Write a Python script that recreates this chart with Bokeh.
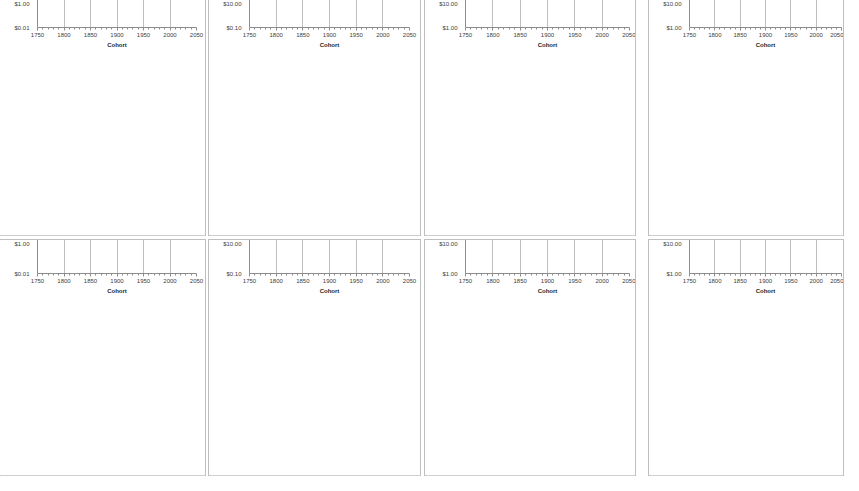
from bokeh.plotting import figure
from bokeh.layouts import row, column, Spacer
from bokeh.models import Range1d, FixedTicker, NumeralTickFormatter, Legend, LegendItem, Title
from bokeh.embed import file_html
from bokeh.resources import INLINE

# ---------------- data ----------------
COH_YEARS = [1820, 1830, 1840, 1850, 1860, 1870, 1880, 1890, 1900, 1910, 1920,
             1930, 1940, 1950, 1960, 1975, 2000, 2025, 2050]
PER_YEARS = [1820, 1825, 1830, 1835, 1840, 1845, 1850, 1860, 1870, 1875, 1880,
             1890, 1900, 1910, 1915, 1920, 1925, 1930, 1940, 1947, 1950, 1960,
             1970, 1980, 1990, 2000, 2025, 2050]
X_TICKS = [1750, 1800, 1850, 1900, 1950, 2000, 2050]

TITLE_LINE1 = [
    "Actual and estimated SPDA rates for females",
    "Actual and estimated SPDA rates for females",
    "Actual and estimated SPDA rates for males",
    "Actual and estimated SPDA rates for males",
    "Actual and estimated SPDA rates for males",
    "Actual and estimated SPDA rates for males",
    "Actual and estimated SPDA rates for males",
    "Actual and estimated SPDA rates for males",
]
TITLE_LINE2 = ["in France at birth", "in France at 20 years", "in France at 40 years",
               "in France at 60 years", "in France at birth", "in France at 20 years",
               "in France at 40 years", "in France at 60 years"]
Y_RANGES = [(0.01, 1.0), (0.1, 10.0), (1.0, 10.0), (1.0, 10.0),
            (0.01, 1.0), (0.1, 10.0), (1.0, 10.0), (1.0, 10.0)]
SEX_LABELS = ["Female", "Female", "Female", "Male", "Male", "Male", "Male", "Male"]

# panel 1: females at birth
act1_x = [1820, 1825, 1830, 1835, 1840, 1845, 1850, 1855, 1860, 1865, 1870, 1875,
          1880, 1885, 1890, 1895, 1900, 1905, 1910, 1915]
act1_y = [0.178, 0.185, 0.192, 0.197, 0.205, 0.215, 0.228, 0.236, 0.25, 0.26, 0.275,
          0.29, 0.315, 0.34, 0.37, 0.40, 0.44, 0.47, 0.50, 0.49]
coh1_y = [0.176, 0.184, 0.195, 0.219, 0.24, 0.266, 0.304, 0.362, 0.421, 0.502, 0.564,
          0.61, 0.645, 0.68, 0.71, 0.75, 0.79, 0.815, 0.83]
per1_y = [0.144, 0.128, 0.124, 0.135, 0.175, 0.186, 0.187, 0.183, 0.19, 0.18, 0.197,
          0.213, 0.233, 0.252, 0.265, 0.275, 0.28, 0.31, 0.355, 0.365, 0.38, 0.5,
          0.57, 0.62, 0.66, 0.70, 0.76, 0.81]

# panel 2: females at 20 years
act2_x = [1820, 1825, 1830, 1835, 1840, 1845, 1850, 1855, 1860, 1865, 1870, 1875, 1880]
act2_y = [0.78, 0.79, 0.81, 0.83, 0.86, 0.87, 0.90, 0.93, 0.96, 1.0, 1.04, 1.07, 1.10]
coh2_y = [0.774, 0.80, 0.84, 0.88, 0.94, 1.01, 1.09, 1.22, 1.37, 1.53, 1.66, 1.77,
          1.86, 1.93, 1.99, 2.07, 2.16, 2.22, 2.26]
per2_y = [0.66, 0.65, 0.67, 0.68, 0.71, 0.72, 0.72, 0.74, 0.72, 0.73, 0.79, 0.83,
          0.86, 0.90, 0.91, 0.93, 0.92, 0.98, 1.08, 1.10, 1.20, 1.44, 1.58, 1.70,
          1.79, 1.86, 1.98, 2.07]

# panel 3: "males" at 40 years (female series)
act3_x = [1820, 1825, 1830, 1835, 1840, 1845, 1850, 1855, 1860, 1865, 1870, 1875,
          1880, 1885, 1890, 1895, 1900]
act3_y = [2.5, 2.47, 2.6, 2.62, 2.68, 2.72, 2.8, 2.86, 2.9, 2.98, 3.05, 3.15, 3.3,
          3.5, 3.7, 3.9, 4.1]
coh3_y = [2.49, 2.55, 2.62, 2.72, 2.83, 2.97, 3.25, 3.63, 4.05, 4.42, 4.77, 5.02,
          5.25, 5.44, 5.58, 5.76, 5.94, 6.06, 6.15]
per3_y = [2.15, 2.2, 2.23, 2.22, 2.25, 2.35, 2.38, 2.35, 2.42, 2.36, 2.49, 2.57,
          2.63, 2.69, 2.72, 2.78, 2.85, 2.97, 3.18, 3.22, 3.35, 3.82, 4.17, 4.42,
          4.62, 4.83, 5.27, 5.56]

# panel 4: males at 60 years (red)
act4_x = [1820, 1825, 1830, 1832, 1835, 1840, 1845, 1848, 1850, 1855, 1860, 1865,
          1870, 1873, 1875, 1880, 1885, 1890, 1895, 1900, 1905, 1910]
act4_y = [2.25, 2.22, 2.26, 2.32, 2.3, 2.25, 2.2, 2.17, 2.26, 2.3, 2.31, 2.33, 2.3,
          2.26, 2.35, 2.5, 2.62, 2.76, 2.88, 3.0, 3.15, 3.29]
coh4_y = [2.2, 2.23, 2.28, 2.31, 2.35, 2.38, 2.52, 2.75, 3.04, 3.35, 3.63, 3.9, 4.14,
          4.36, 4.53, 4.77, 5.11, 5.38, 5.59]
per4_y = [2.16, 2.18, 2.22, 2.24, 2.27, 2.33, 2.3, 2.33, 2.38, 2.35, 2.55, 2.66,
          2.69, 2.72, 2.76, 2.82, 2.88, 2.97, 3.15, 3.2, 3.35, 3.79, 4.1, 4.35,
          4.62, 4.89, 5.27, 5.51]

# panel 5: males at birth
act5_x = [1820, 1825, 1830, 1835, 1840, 1845, 1850, 1855, 1860, 1865, 1870, 1875,
          1880, 1885, 1890, 1895, 1898, 1900, 1905, 1910, 1915]
act5_y = [0.157, 0.153, 0.162, 0.166, 0.17, 0.165, 0.168, 0.172, 0.18, 0.175, 0.178,
          0.185, 0.176, 0.178, 0.166, 0.165, 0.22, 0.24, 0.268, 0.295, 0.31]
coh5_y = [0.152, 0.158, 0.162, 0.166, 0.172, 0.177, 0.185, 0.20, 0.235, 0.292, 0.348,
          0.39, 0.446, 0.487, 0.52, 0.58, 0.644, 0.67, 0.703]
per5_y = [0.114, 0.096, 0.093, 0.10, 0.13, 0.155, 0.162, 0.17, 0.177, 0.16, 0.185,
          0.20, 0.202, 0.207, 0.20, 0.155, 0.185, 0.241, 0.268, 0.26, 0.287, 0.368,
          0.42, 0.446, 0.487, 0.546, 0.63, 0.71]

# panel 6: males at 20 years
act6_x = act5_x
act6_y = [0.70, 0.69, 0.70, 0.71, 0.70, 0.71, 0.70, 0.71, 0.735, 0.72, 0.735, 0.74,
          0.72, 0.72, 0.65, 0.64, 0.85, 0.89, 0.95, 1.05, 1.12]
coh6_y = [0.656, 0.673, 0.69, 0.703, 0.722, 0.735, 0.75, 0.768, 0.877, 1.04, 1.19,
          1.32, 1.485, 1.58, 1.66, 1.77, 1.85, 1.88, 1.90]
per6_y = [0.54, 0.53, 0.55, 0.58, 0.645, 0.68, 0.69, 0.70, 0.716, 0.673, 0.72, 0.735,
          0.735, 0.735, 0.71, 0.54, 0.617, 0.72, 0.80, 0.768, 0.839, 1.09, 1.19,
          1.25, 1.36, 1.52, 1.72, 1.90]

# panel 7: males at 40 years
act7_x = [1820, 1825, 1830, 1832, 1835, 1840, 1845, 1850, 1855, 1860, 1865, 1870,
          1875, 1880, 1885, 1890, 1895, 1900, 1905, 1910, 1915]
act7_y = [2.27, 2.22, 2.3, 2.36, 2.3, 2.24, 2.25, 2.26, 2.28, 2.3, 2.3, 2.31, 2.33,
          2.48, 2.58, 2.71, 2.82, 2.95, 3.1, 3.3, 3.42]
coh7_y = [2.24, 2.2, 2.24, 2.27, 2.3, 2.32, 2.45, 2.65, 2.9, 3.23, 3.53, 3.82, 4.08,
          4.3, 4.45, 4.74, 5.08, 5.35, 5.6]
per7_y = [1.72, 1.65, 1.67, 1.74, 1.95, 2.18, 2.27, 2.3, 2.32, 2.24, 2.27, 2.28, 2.3,
          2.26, 2.24, 2.18, 2.24, 2.32, 2.43, 2.38, 2.48, 2.96, 3.16, 3.26, 3.45,
          3.77, 4.5, 5.08]

# panel 8: males at 60 years
act8_x = [1820, 1825, 1830, 1832, 1835, 1840, 1845, 1850, 1855, 1860, 1865, 1870,
          1875, 1880, 1885, 1890, 1895, 1900, 1905, 1910]
act8_y = [2.27, 2.22, 2.3, 2.36, 2.3, 2.27, 2.28, 2.29, 2.3, 2.3, 2.31, 2.32, 2.35,
          2.53, 2.62, 2.74, 2.85, 2.97, 3.12, 3.29]
coh8_y = [2.22, 2.2, 2.27, 2.3, 2.32, 2.35, 2.48, 2.7, 2.95, 3.29, 3.51, 3.8, 4.04,
          4.27, 4.45, 4.66, 5.02, 5.3, 5.55]
per8_y = [1.75, 1.66, 1.68, 1.75, 1.91, 2.19, 2.3, 2.31, 2.35, 2.22, 2.27, 2.3, 2.29,
          2.26, 2.24, 2.17, 2.27, 2.34, 2.45, 2.37, 2.48, 3.01, 3.15, 3.26, 3.51,
          3.83, 4.46, 5.09]

ACT_X = [act1_x, act2_x, act3_x, act4_x, act5_x, act6_x, act7_x, act8_x]
ACT_Y = [act1_y, act2_y, act3_y, act4_y, act5_y, act6_y, act7_y, act8_y]
COH_Y = [coh1_y, coh2_y, coh3_y, coh4_y, coh5_y, coh6_y, coh7_y, coh8_y]
PER_Y = [per1_y, per2_y, per3_y, per4_y, per5_y, per6_y, per7_y, per8_y]

# ---------------- styling ----------------
RED_COH, RED_PER = "#FF0000", "#FF1A1A"
BLUE_COH, BLUE_PER = "#2B5A8C", "#5E83B0"
FONT = "Liberation Sans"
SMALL = "6px"
YLABEL = "Premium for a dollar benefit for every year of survival from 60 to 85."

COL_W = [205, 211, 210, 194]
COL_L = [28, 32, 36, 32]
COL_R = [9, 11, 6, 2]
ROW_H = [235, 235]
ROW_T = [25, 33]
ROW_B = [36, 27]


def decade_ticks(lo, hi):
    majors, minors = [], []
    d = lo
    while d <= hi * 1.0001:
        majors.append(round(d, 4))
        if d < hi * 0.999:
            for k in range(2, 10):
                minors.append(round(k * d, 4))
        d *= 10
    return majors, minors


def style_title(t, standoff):
    t.align = "center"
    t.text_font = FONT
    t.text_font_style = "bold"
    t.text_font_size = "8px"
    t.text_color = "#1a1a1a"
    t.standoff = standoff
    t.offset = 0


def make_panel(i):
    r, c = divmod(i, 4)
    lo, hi = Y_RANGES[i]
    red = i < 4
    ccoh = RED_COH if red else BLUE_COH
    cper = RED_PER if red else BLUE_PER
    p = figure(width=COL_W[c], height=ROW_H[r], title=TITLE_LINE1[i],
               x_range=Range1d(1750, 2050), y_range=Range1d(lo, hi),
               y_axis_type="log", output_backend="svg", toolbar_location=None,
               min_border_left=COL_L[c], min_border_right=COL_R[c],
               min_border_top=ROW_T[r], min_border_bottom=ROW_B[r])
    p.styles = {"outline": "1px solid #BFBFBF"}
    p.outline_line_color = None
    style_title(p.title, 1)
    sub = Title(text=TITLE_LINE2[i])
    style_title(sub, 4)
    p.add_layout(sub, "above")

    majors, minors = decade_ticks(lo, hi)
    yt = FixedTicker(ticks=majors, minor_ticks=minors)
    p.yaxis.ticker = yt
    p.ygrid.ticker = yt
    p.yaxis.formatter = NumeralTickFormatter(format="$0.00")
    p.ygrid.grid_line_color = "#A6A6A6"
    p.ygrid.minor_grid_line_color = "#D9D9D9"
    p.yaxis.major_tick_line_color = None
    p.yaxis.minor_tick_line_color = None
    p.yaxis.axis_line_color = "#8C8C8C"
    p.yaxis.major_label_text_font_size = SMALL
    p.yaxis.major_label_text_color = "#404040"
    p.yaxis.major_label_standoff = 2
    p.yaxis.axis_label = YLABEL
    p.yaxis.axis_label_text_font = FONT
    p.yaxis.axis_label_text_font_size = SMALL
    p.yaxis.axis_label_text_font_style = "normal"
    p.yaxis.axis_label_text_color = "#262626"
    p.yaxis.axis_label_standoff = 2

    xt = FixedTicker(ticks=X_TICKS, minor_ticks=list(range(1760, 2050, 10)))
    p.xaxis.ticker = xt
    p.xgrid.ticker = FixedTicker(ticks=X_TICKS)
    p.xgrid.grid_line_color = "#BFBFBF"
    p.xaxis.axis_line_color = "#8C8C8C"
    p.xaxis.major_tick_line_color = "#8C8C8C"
    p.xaxis.minor_tick_line_color = "#8C8C8C"
    p.xaxis.major_tick_out = 3
    p.xaxis.major_tick_in = 0
    p.xaxis.minor_tick_out = 2
    p.xaxis.minor_tick_in = 0
    p.xaxis.major_label_text_font_size = SMALL
    p.xaxis.major_label_text_color = "#404040"
    p.xaxis.major_label_standoff = 2
    p.xaxis.axis_label = "Cohort"
    p.xaxis.axis_label_text_font = FONT
    p.xaxis.axis_label_text_font_size = SMALL
    p.xaxis.axis_label_text_font_style = "bold"
    p.xaxis.axis_label_text_color = "#262626"
    p.xaxis.axis_label_standoff = 2

    ra = p.line(ACT_X[i], ACT_Y[i], line_color="black", line_width=2.5)
    rc = p.line(COH_YEARS, COH_Y[i], line_color=ccoh, line_width=3)
    rp = p.line(PER_YEARS, PER_Y[i], line_color=cper, line_width=3)

    sex = SEX_LABELS[i]
    leg = Legend(items=[LegendItem(label="Actual " + sex, renderers=[ra]),
                        LegendItem(label="Ex. Sm., Coh. " + sex, renderers=[rc]),
                        LegendItem(label="Ex. Sm., Per. " + sex, renderers=[rp])],
                 orientation="horizontal", location="center")
    leg.label_text_font_size = SMALL
    leg.label_text_color = "#404040"
    leg.glyph_width = 12
    leg.glyph_height = 6
    leg.label_standoff = 1
    leg.spacing = 8
    leg.padding = 1
    leg.margin = 1
    leg.border_line_color = None
    leg.background_fill_alpha = 0
    p.add_layout(leg, "below")
    return p


panels = [make_panel(i) for i in range(8)]
GAPS = [4, 5, 14]


def make_row(ps):
    kids = [ps[0]]
    for g, pp in zip(GAPS, ps[1:]):
        kids.append(Spacer(width=g))
        kids.append(pp)
    return row(*kids, spacing=0)


layout = column(make_row(panels[:4]), Spacer(height=5), make_row(panels[4:]), spacing=0)

open("out.html", "w").write(file_html(layout, INLINE))
